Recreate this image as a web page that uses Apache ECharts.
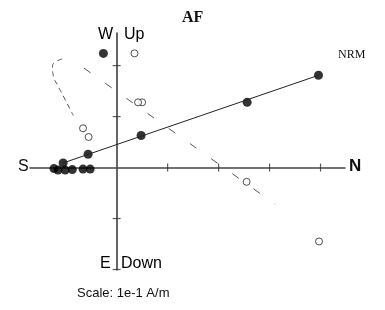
<!DOCTYPE html>
<html>
<head>
<meta charset="utf-8">
<script src="https://cdn.jsdelivr.net/npm/echarts@6/dist/echarts.min.js"></script>
<style>
  html, body { margin: 0; padding: 0; background: #fff; }
  #chart { width: 385px; height: 310px; }
</style>
</head>
<body>
<div id="chart"></div>
<script>
  // values in tick units (1 tick = 1e-1 A/m)
  const horizontalPts = [
    [3.96, 1.81], [2.56, 1.28], [0.48, 0.63], [-0.56, 0.26], [-1.05, 0.09],
    [-1.23, -0.02], [-1.15, -0.05], [-1.01, -0.05], [-0.87, -0.04],
    [-0.66, -0.03], [-0.52, -0.03], [-0.26, 2.24]
  ]
  const verticalPts = [
    [3.97, -1.45], [2.55, -0.28], [0.50, 1.28], [0.42, 1.28],
    [0.35, 2.24], [-0.55, 0.60], [-0.66, 0.77]
  ]
  const horizontalFit = [[-1.05, 0.09], [3.96, 1.81]]
  const verticalFit = [[-0.64, 1.95], [3.11, -0.72]]
  const traceLeft = [[-1.07, 2.13], [-1.26, 1.99], [-1.24, 1.79], [-1.15, 1.60], [-1.03, 1.37], [-0.85, 1.02]]
  const xTicks = [1, 2, 3, 4]
  const yTicks = [2, 1, -1, -2]

  const chart = echarts.init(document.getElementById('chart'))

  const option = {
    animation: false,
    grid: { left: 30, right: 40, top: 33, bottom: 40 },
    xAxis: {
      type: 'value', min: -1.7, max: 4.48,
      axisLine: { onZero: true, lineStyle: { color: '#444', width: 1.5 } },
      axisTick: { show: false }, axisLabel: { show: false }, splitLine: { show: false }
    },
    yAxis: {
      type: 'value', min: -2.01, max: 2.64,
      axisLine: { onZero: true, lineStyle: { color: '#333', width: 1.5 } },
      axisTick: { show: false }, axisLabel: { show: false }, splitLine: { show: false }
    },
    graphic: [
      { type: 'text', x: 182, y: 10, style: { text: 'AF', font: 'bold 16px "Liberation Serif"', fill: '#111' } },
      { type: 'text', x: 338, y: 49, style: { text: 'NRM', font: '12px "Liberation Serif"', fill: '#111' } },
      { type: 'text', x: 18, y: 159, style: { text: 'S', font: '16px "Liberation Sans"', fill: '#111' } },
      { type: 'text', x: 349, y: 158, style: { text: 'N', font: 'bold 17px "Liberation Sans"', fill: '#111' } },
      { type: 'text', x: 98, y: 27, style: { text: 'W', font: '16px "Liberation Sans"', fill: '#000' } },
      { type: 'text', x: 124, y: 27, style: { text: 'Up', font: '16px "Liberation Sans"', fill: '#000' } },
      { type: 'text', x: 100, y: 256, style: { text: 'E', font: '16px "Liberation Sans"', fill: '#000' } },
      { type: 'text', x: 121, y: 256, style: { text: 'Down', font: '16px "Liberation Sans"', fill: '#000' } },
      { type: 'text', x: 77, y: 287, style: { text: 'Scale: 1e-1 A/m', font: '13px "Liberation Sans"', fill: '#111' } }
    ],
    series: [
      {
        type: 'scatter', symbol: 'rect', symbolSize: [1.2, 8], silent: true,
        itemStyle: { color: '#333' },
        data: xTicks.map(v => [v, 0])
      },
      {
        type: 'scatter', symbol: 'rect', symbolSize: [8, 1.2], silent: true,
        itemStyle: { color: '#333' },
        data: yTicks.map(v => [0, v])
      },
      {
        type: 'line', data: horizontalFit, symbol: 'none',
        lineStyle: { color: '#222', width: 1 }
      },
      {
        type: 'line', data: verticalFit, symbol: 'none',
        lineStyle: { color: '#555', width: 1, type: [8, 18] }
      },
      {
        type: 'line', data: traceLeft, symbol: 'none', smooth: true,
        lineStyle: { color: '#555', width: 1, type: [5, 4] }
      },
      {
        type: 'scatter', data: horizontalPts, symbol: 'circle', symbolSize: 9,
        itemStyle: { color: '#000' }
      },
      {
        type: 'scatter', data: verticalPts, symbol: 'circle', symbolSize: 7,
        itemStyle: { color: '#fff', borderColor: '#222', borderWidth: 1 }
      }
    ]
  }

  chart.setOption(option)
</script>
</body>
</html>
